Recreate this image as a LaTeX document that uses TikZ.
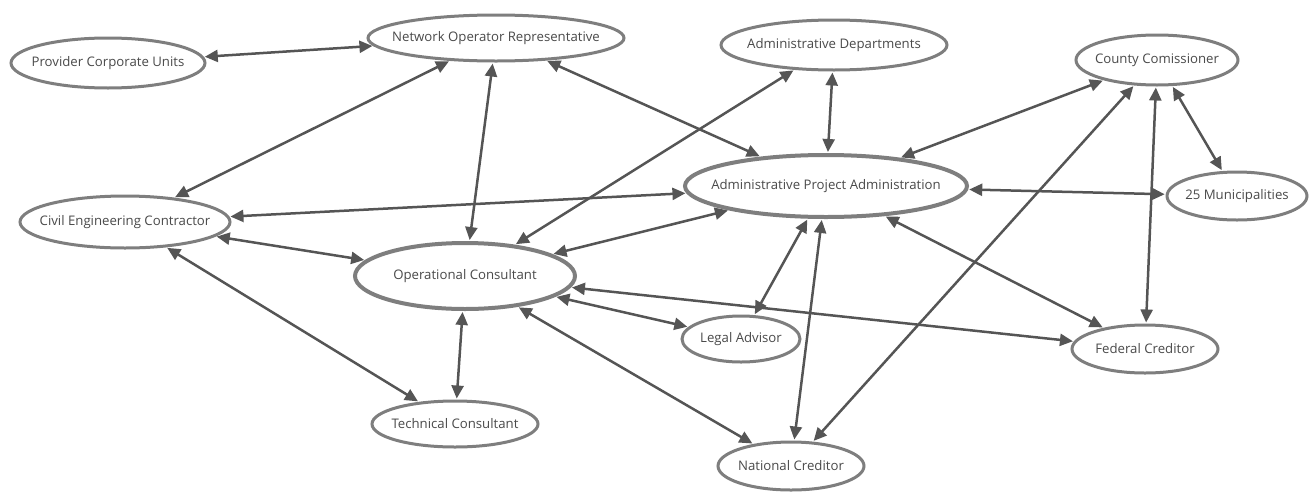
\documentclass[tikz,border=0pt]{standalone}
\usepackage{fontspec}
\setmainfont{Open Sans}
\usetikzlibrary{shapes.geometric,arrows.meta}
\definecolor{rimgray}{HTML}{7E7E7E}
\definecolor{linkgray}{HTML}{555555}
\definecolor{labelgray}{HTML}{4A4A4A}
\newcommand{\nlabel}[1]{\makebox[0pt]{#1}}
\tikzset{
  party/.style={ellipse, draw=rimgray, line width=3pt, fill=white,
    inner sep=0pt, text=labelgray, font=\fontsize{13.2}{15}\selectfont},
  hub/.style={party, line width=4pt},
  link/.style={draw=linkgray, line width=2.5pt,
    {Triangle[length=13pt,width=12pt]}-{Triangle[length=13pt,width=12pt]},
    shorten <=1pt, shorten >=1pt}
}
\begin{document}
\begin{tikzpicture}[x=1pt,y=-1pt]
\useasboundingbox (0,0) rectangle (1311,493);
% stakeholders
\node[party, minimum width=194pt, minimum height=50pt] (pcu) at (108,63) {\nlabel{Provider Corporate Units}};
\node[party, minimum width=256pt, minimum height=46pt] (nor) at (496,38) {\nlabel{Network Operator Representative}};
\node[party, minimum width=226pt, minimum height=50pt] (ad) at (834,45) {\nlabel{Administrative Departments}};
\node[party, minimum width=162pt, minimum height=50pt] (cc) at (1157,60) {\nlabel{County Comissioner}};
\node[party, minimum width=140pt, minimum height=48pt] (mun) at (1237,196) {\nlabel{25 Municipalities}};
\node[hub, minimum width=282pt, minimum height=62pt] (apa) at (826,186) {\nlabel{Administrative Project Administration}};
\node[party, minimum width=210pt, minimum height=52pt] (cec) at (125,222) {\nlabel{Civil Engineering Contractor}};
\node[hub, minimum width=220pt, minimum height=66pt] (oc) at (465,276) {\nlabel{Operational Consultant}};
\node[party, minimum width=118pt, minimum height=46pt] (la) at (741,339) {\nlabel{Legal Advisor}};
\node[party, minimum width=146pt, minimum height=48pt] (fc) at (1145,349) {\nlabel{Federal Creditor}};
\node[party, minimum width=166pt, minimum height=46pt] (tc) at (455,424) {\nlabel{Technical Consultant}};
\node[party, minimum width=146pt, minimum height=48pt] (nc) at (791,466) {\nlabel{National Creditor}};
% relations
\draw[link] (pcu) -- (nor);
\draw[link] (nor) -- (cec);
\draw[link] (nor) -- (oc);
\draw[link] (nor) -- (apa);
\draw[link] (ad) -- (oc);
\draw[link] (ad) -- (apa);
\draw[link] (cc) -- (apa);
\draw[link] (cc) -- (mun);
\draw[link] (cc) -- (fc);
\draw[link] (cc) -- (nc);
\draw[link] (apa) -- (mun);
\draw[link] (apa) -- (cec);
\draw[link] (apa) -- (oc);
\draw[link] (apa) -- (la);
\draw[link] (apa) -- (nc);
\draw[link] (apa) -- (fc);
\draw[link] (cec) -- (oc);
\draw[link] (cec) -- (tc);
\draw[link] (oc) -- (tc);
\draw[link] (oc) -- (la);
\draw[link] (oc) -- (fc);
\draw[link] (oc) -- (nc);
\end{tikzpicture}
\end{document}
